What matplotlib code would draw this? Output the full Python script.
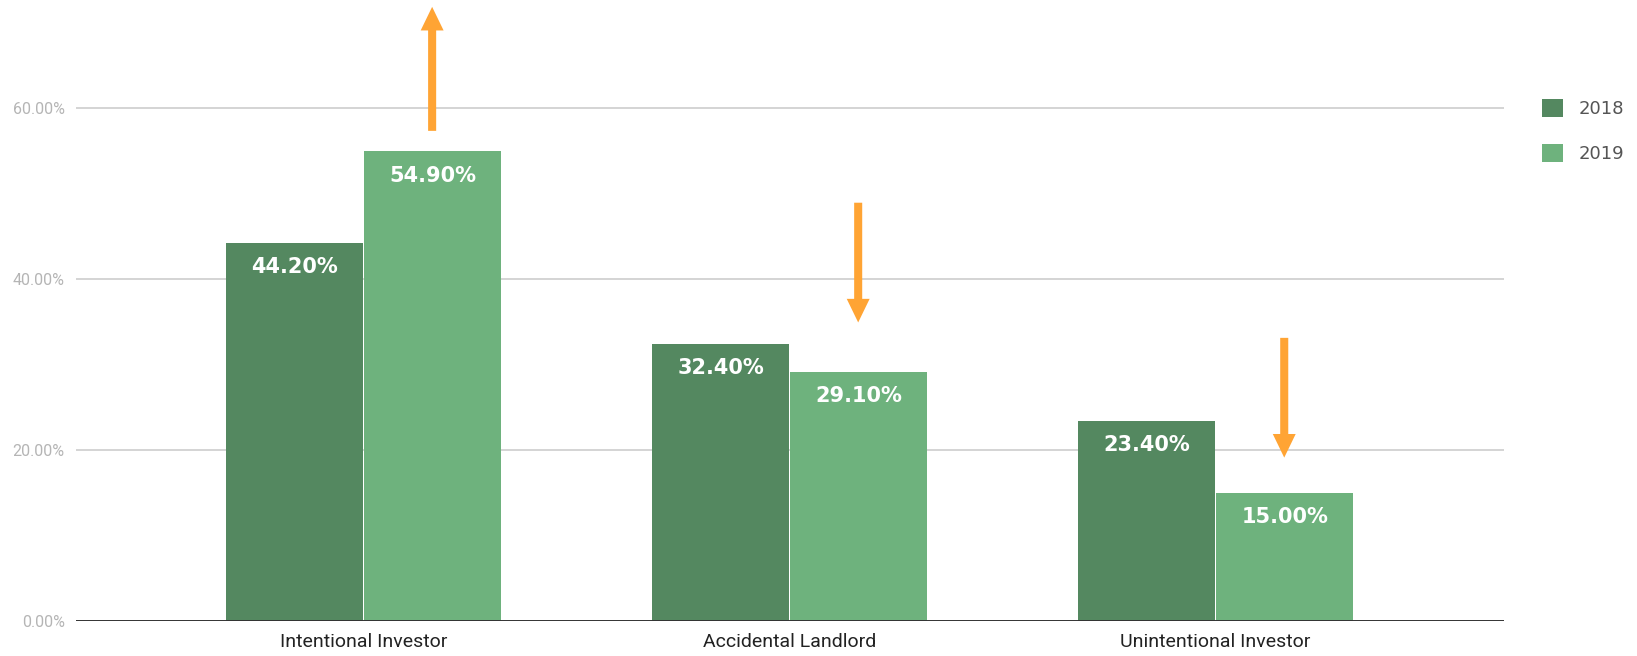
import numpy as np
import matplotlib
matplotlib.use('Agg')
import matplotlib.pyplot as plt

# Investor type share, 2018 vs 2019
categories = ['Intentional Investor', 'Accidental Landlord', 'Unintentional Investor']
years = ['2018', '2019']
values_2018 = [44.2, 32.4, 23.4]
values_2019 = [54.9, 29.1, 15.0]

# trend arrows drawn over the 2019 bars (tail %, tip %)
arrow_tail = [57.3, 48.9, 33.1]
arrow_tip = [71.8, 34.9, 19.1]

yticks = [0, 20, 40, 60]

C_2018 = '#548860'
C_2019 = '#6eb27d'
C_ARROW = '#ffa434'

fig = plt.figure(figsize=(16.37, 6.56), dpi=100)
ax = fig.add_axes([0.0464, 0.0534, 0.9188 - 0.0464, 1 - 0.0534])

x = np.arange(len(categories))
w = 0.322
b1 = ax.bar(x - w / 2 - 0.001, values_2018, w, color=C_2018, label=years[0], zorder=3)
b2 = ax.bar(x + w / 2 + 0.001, values_2019, w, color=C_2019, label=years[1], zorder=3)

for bars, vals in ((b1, values_2018), (b2, values_2019)):
    for rect, v in zip(bars, vals):
        ax.annotate(f'{v:.2f}%', (rect.get_x() + rect.get_width() / 2, v),
                    xytext=(0, -17.5), textcoords='offset points',
                    ha='center', va='center', color='white',
                    fontsize=15, fontweight='bold', family='DejaVu Sans', zorder=4)

for xi, t0, t1 in zip(x + w / 2, arrow_tail, arrow_tip):
    ax.annotate('', xy=(xi, t1), xytext=(xi, t0),
                arrowprops=dict(width=5.8, headwidth=16.5, headlength=17,
                                color=C_ARROW, shrink=0, lw=0),
                zorder=5, annotation_clip=False)

ax.set_xlim(-0.675, 2.677)
ax.set_ylim(0, 72.6)
ax.set_yticks(yticks)
ax.set_yticklabels([f'{t:.2f}%' for t in yticks], family='Roboto', fontsize=11.5, color='#b5b5b5')
ax.set_xticks(x)
ax.set_xticklabels(categories, family='Roboto', fontsize=14, color='#222222')
ax.tick_params(axis='both', length=0)
ax.tick_params(axis='y', pad=8)
ax.tick_params(axis='x', pad=9)

for t in yticks[1:]:
    ax.axhline(t, color='#d4d4d4', lw=1.4, zorder=1)
ax.axhline(0, color='#333333', lw=1.4, zorder=4)
for s in ax.spines.values():
    s.set_visible(False)

fig.legend(handles=[b1, b2], labels=years, loc='upper left',
           bbox_to_anchor=(0.942, 0.849), frameon=False,
           prop={'family': 'DejaVu Sans', 'size': 13},
           labelcolor='#555555', handlelength=1.15, handleheight=1.15,
           handletextpad=0.85, labelspacing=1.45, borderpad=0, borderaxespad=0)

plt.savefig('out.png', dpi=100)
plt.close()
